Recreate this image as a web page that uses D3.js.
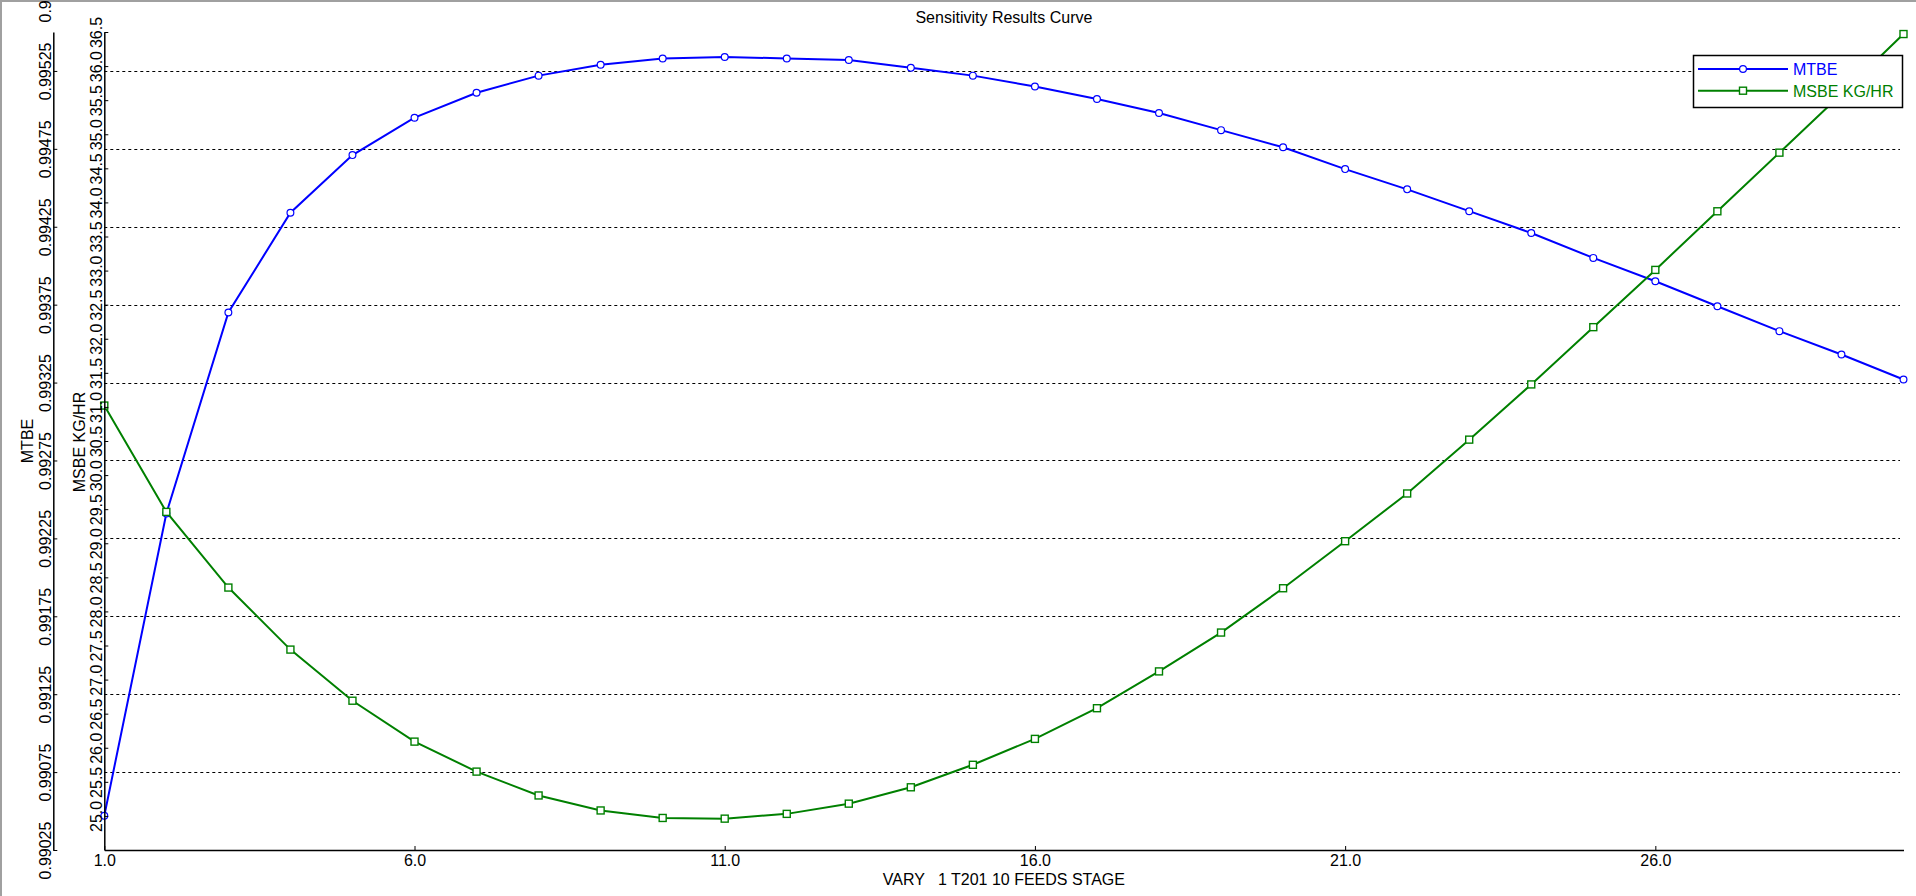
<!DOCTYPE html>
<html><head><meta charset="utf-8">
<script src="https://cdn.jsdelivr.net/npm/d3@7/dist/d3.min.js"></script>
<style>
body{margin:0;background:#fff;overflow:hidden}
text{font-family:"Liberation Sans",Arial,sans-serif;font-size:16px}
</style>
</head><body>
<svg id="chart" width="1916" height="896"></svg>
<script>
const stages = [1,2,3,4,5,6,7,8,9,10,11,12,13,14,15,16,17,18,19,20,21,22,23,24,25,26,27,28,29,30];
const mtbe = [0.99047,0.99241,0.99370,0.99434,0.99471,0.99495,0.99511,0.99522,0.99529,0.99533,
              0.99534,0.99533,0.99532,0.99527,0.99522,0.99515,0.99507,0.99498,0.99487,0.99476,
              0.99462,0.99449,0.99435,0.99421,0.99405,0.99390,0.99374,0.99358,0.99343,0.99327];
const msbe = [31.02,29.46,28.35,27.44,26.69,26.09,25.65,25.30,25.08,24.97,
              24.96,25.03,25.18,25.42,25.75,26.13,26.58,27.12,27.69,28.34,
              29.03,29.73,30.52,31.33,32.17,33.01,33.87,34.73,35.59,36.47];
const xTicks = [1,6,11,16,21,26];
const mtbeTicks = [0.99025,0.99075,0.99125,0.99175,0.99225,0.99275,0.99325,0.99375,0.99425,0.99475,0.99525,0.99575];
const mtbeGrid = [0.99075,0.99125,0.99175,0.99225,0.99275,0.99325,0.99375,0.99425,0.99475,0.99525];
const msbeTicks = [25.0,25.5,26.0,26.5,27.0,27.5,28.0,28.5,29.0,29.5,30.0,30.5,31.0,31.5,32.0,32.5,33.0,33.5,34.0,34.5,35.0,35.5,36.0,36.5];
const seriesNames = ["MTBE","MSBE KG/HR"];
const title = "Sensitivity Results Curve";
const xTitle = "VARY   1 T201 10 FEEDS STAGE";

const svg = d3.select("#chart");
const L = 104.3, R = 1903.5, T = 32, B = 850;
const x = d3.scaleLinear().domain([1,30]).range([L,R]);
const yL = d3.scaleLinear().domain([0.99025,0.9955]).range([B,T]);
const yR = d3.scaleLinear().domain([24.5,36.5]).range([B,T]);
const blue = "#0000ff", green = "#008000";

// window frame
svg.append("rect").attr("x",0).attr("y",0).attr("width",1916).attr("height",2).attr("fill","#a0a0a0");
svg.append("rect").attr("x",0).attr("y",0).attr("width",2).attr("height",896).attr("fill","#a0a0a0");

// gridlines
svg.append("g").selectAll("line").data(mtbeGrid).join("line")
  .attr("x1",L).attr("x2",1900).attr("y1",d=>Math.round(yL(d))+0.5).attr("y2",d=>Math.round(yL(d))+0.5)
  .attr("stroke","#000").attr("stroke-width",1).attr("stroke-dasharray","3,3");

// lines
const mData = stages.map((s,i)=>[s,mtbe[i]]);
const gData = stages.map((s,i)=>[s,msbe[i]]);
svg.append("path").datum(mData).attr("fill","none").attr("stroke",blue).attr("stroke-width",2)
  .attr("d",d3.line().x(d=>x(d[0])).y(d=>yL(d[1])));
svg.append("path").datum(gData).attr("fill","none").attr("stroke",green).attr("stroke-width",2)
  .attr("d",d3.line().x(d=>x(d[0])).y(d=>yR(d[1])));

// markers
svg.append("g").selectAll("circle").data(mData).join("circle")
  .attr("cx",d=>x(d[0])).attr("cy",d=>yL(d[1])).attr("r",3.4)
  .attr("fill","#fff").attr("stroke",blue).attr("stroke-width",1.2);
svg.append("g").selectAll("rect").data(gData).join("rect")
  .attr("x",d=>x(d[0])-3.5).attr("y",d=>yR(d[1])-3.5).attr("width",7).attr("height",7)
  .attr("fill","#fff").attr("stroke",green).attr("stroke-width",1.4);

function styleAxis(g){
  g.select(".domain").attr("stroke","#000").attr("stroke-width",1.5);
  g.selectAll(".tick line").attr("stroke","#000");
  g.selectAll(".tick text").attr("fill","#000").style("font-size","16px")
   .style("font-family",'"Liberation Sans",Arial,sans-serif');
}

// x axis
const gx = svg.append("g").attr("transform",`translate(0,${B})`)
  .call(d3.axisBottom(x).tickValues(xTicks).tickFormat(d3.format(".1f")).tickSizeInner(-4).tickSizeOuter(0));
styleAxis(gx);
gx.selectAll(".tick text").attr("y",16).attr("dy",0);

// MTBE axis
const gl = svg.append("g").attr("transform","translate(53.3,0)")
  .call(d3.axisLeft(yL).tickValues(mtbeTicks).tickFormat(d3.format(".5f")).tickSizeInner(-4).tickSizeOuter(0));
styleAxis(gl);
gl.selectAll(".tick text").attr("transform","rotate(-90)").attr("x",0).attr("y",-2).attr("dy",0)
  .attr("text-anchor","middle");

// MSBE axis
const gr = svg.append("g").attr("transform",`translate(${L},0)`)
  .call(d3.axisLeft(yR).tickValues(msbeTicks).tickFormat(d3.format(".1f")).tickSizeInner(-4).tickSizeOuter(0));
styleAxis(gr);
gr.selectAll(".tick text").attr("transform","rotate(-90)").attr("x",0).attr("y",-2).attr("dy",0)
  .attr("text-anchor","middle");

// axis titles
svg.append("text").attr("transform","translate(33,441) rotate(-90)").attr("text-anchor","middle").text(seriesNames[0]);
svg.append("text").attr("transform","translate(85,442) rotate(-90)").attr("text-anchor","middle").text(seriesNames[1]);
svg.append("text").attr("x",(L+R)/2).attr("y",885).attr("text-anchor","middle").style("white-space","pre")
  .attr("xml:space","preserve").text(xTitle);
svg.append("text").attr("x",(L+R)/2).attr("y",23).attr("text-anchor","middle").text(title);

// legend
const lg = svg.append("g");
lg.append("rect").attr("x",1693.5).attr("y",55.5).attr("width",209).attr("height",52)
  .attr("fill","#fff").attr("stroke","#000").attr("stroke-width",1.5);
const colors = [blue, green];
seriesNames.forEach((n,i)=>{
  const yy = 69 + i*21.7;
  lg.append("line").attr("x1",1698).attr("x2",1788).attr("y1",yy).attr("y2",yy)
    .attr("stroke",colors[i]).attr("stroke-width",2);
  if(i===0){
    lg.append("circle").attr("cx",1743).attr("cy",yy).attr("r",3.4).attr("fill","#fff").attr("stroke",blue).attr("stroke-width",1.2);
  } else {
    lg.append("rect").attr("x",1739.5).attr("y",yy-3.5).attr("width",7).attr("height",7).attr("fill","#fff").attr("stroke",green).attr("stroke-width",1.4);
  }
  lg.append("text").attr("x",1793).attr("y",yy+6).attr("fill",colors[i]).text(n);
});
</script>
</body></html>
